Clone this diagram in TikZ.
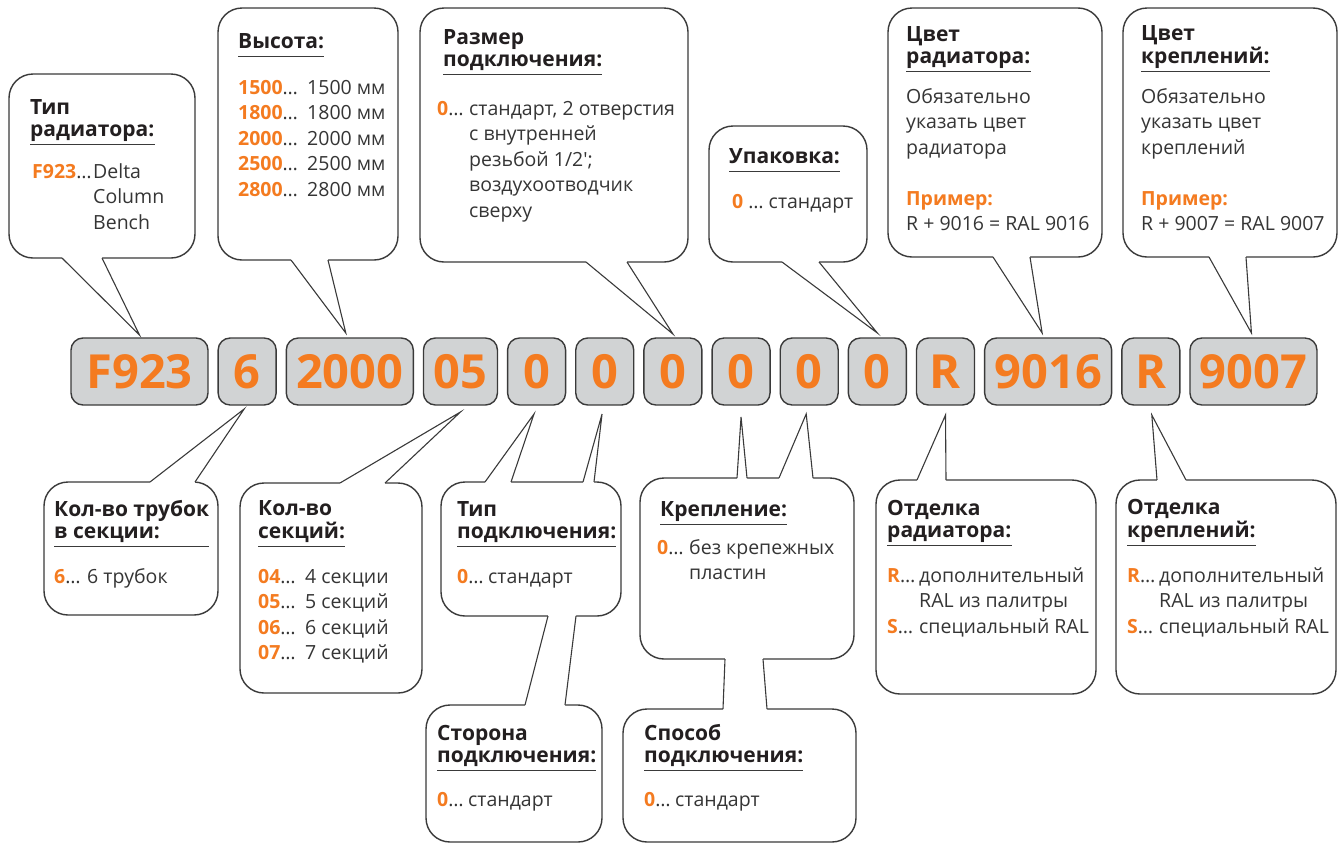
\documentclass[tikz,border=0pt]{standalone}
\usepackage{fontspec}
\setmainfont{Open Sans}
\usepackage{xcolor}
\usetikzlibrary{positioning}
\definecolor{rim}{HTML}{3A3A3A}
\definecolor{kodfill}{HTML}{D1D3D4}
\definecolor{accent}{HTML}{F47B20}
\definecolor{ink}{HTML}{231F20}
\definecolor{bodytext}{HTML}{353535}

\newcommand\bodyfont{\fontsize{19.5}{25.5}\selectfont}
\newcommand\headfont{\fontsize{21}{22}\selectfont\bfseries}
\newcommand\headrows[1]{\begin{tabular}[b]{@{}l@{}}#1\end{tabular}}
\newcommand\bodyrows[1]{\begin{tabular}[t]{@{}l@{}}#1\end{tabular}}
\newcommand\optcode[2][32pt]{\makebox[#1][l]{\textcolor{accent}{\bfseries #2}…}}
% spout: box, anchor, dx1, dx2, tip, inward shift
\newcommand\spout[6]{%
  \fill[white] ([xshift=#3pt,yshift=#6pt]#1.#2) -- ([xshift=#3pt]#1.#2) -- #5
    -- ([xshift=#4pt]#1.#2) -- ([xshift=#4pt,yshift=#6pt]#1.#2) -- cycle;
  \draw[spoutline] ([xshift=#3pt]#1.#2) -- #5 -- ([xshift=#4pt]#1.#2);}

\begin{document}
\begin{tikzpicture}[x=1pt,y=-1pt,
    callout/.style={draw=rim,fill=white,line width=1.4pt,rounded corners=24pt,
      inner sep=0pt,outer sep=0pt,anchor=north west},
    kod/.style={draw=rim,fill=kodfill,line width=1.4pt,rounded corners=12pt,
      minimum height=67pt,inner sep=0pt,outer sep=0pt,text=accent,
      font=\fontsize{47}{47}\selectfont\bfseries},
    spoutline/.style={draw=rim,line width=1.1pt,line join=miter},
    head/.style={inner sep=0pt,anchor=base west,text=ink,font=\headfont},
    body/.style={inner sep=0pt,anchor=base west,text=bodytext,font=\bodyfont},
    uline/.style={draw=rim,line width=0.9pt}]
  \useasboundingbox (0,0) rectangle (1339,844);

  % callouts
  \node[callout,minimum width=186pt,minimum height=184pt] (typ) at (9,74) {};
  \node[callout,minimum width=180pt,minimum height=252pt] (vys) at (218,8) {};
  \node[callout,minimum width=268pt,minimum height=254pt] (razm) at (420,8) {};
  \node[callout,minimum width=158pt,minimum height=136pt] (upak) at (709,126) {};
  \node[callout,minimum width=214pt,minimum height=249pt] (cvrad) at (888,8) {};
  \node[callout,minimum width=214pt,minimum height=249pt] (cvkr) at (1123,8) {};
  \node[callout,minimum width=174pt,minimum height=133pt] (trub) at (44,482) {};
  \node[callout,minimum width=182pt,minimum height=210pt] (sekc) at (240,483) {};
  \node[callout,minimum width=180pt,minimum height=134pt] (tippod) at (441,482) {};
  \node[callout,minimum width=176pt,minimum height=137pt] (storona) at (426,705) {};
  \node[callout,minimum width=214pt,minimum height=181pt] (krep) at (640,478) {};
  \node[callout,minimum width=233pt,minimum height=133pt] (sposob) at (623,709) {};
  \node[callout,minimum width=220pt,minimum height=214pt] (otrad) at (876,480) {};
  \node[callout,minimum width=220pt,minimum height=214pt] (otkr) at (1116,480) {};

  % code boxes
  \node[kod,minimum width=137pt,anchor=north west] (kF) at (71,338) {F923};
  \node[kod,minimum width=58pt,right=10.15pt of kF] (kTrub) {6};
  \node[kod,minimum width=127pt,right=10.15pt of kTrub] (kVys) {2000};
  \node[kod,minimum width=74pt,right=10.15pt of kVys] (kSekc) {05};
  \node[kod,minimum width=58pt,right=10.15pt of kSekc] (kTip) {0};
  \node[kod,minimum width=58pt,right=10.15pt of kTip] (kStor) {0};
  \node[kod,minimum width=58pt,right=10.15pt of kStor] (kRazm) {0};
  \node[kod,minimum width=58pt,right=10.15pt of kRazm] (kSpos) {0};
  \node[kod,minimum width=58pt,right=10.15pt of kSpos] (kKrep) {0};
  \node[kod,minimum width=58pt,right=10.15pt of kKrep] (kUpak) {0};
  \node[kod,minimum width=58pt,right=10.15pt of kUpak] (kOtR) {R};
  \node[kod,minimum width=127pt,right=10.15pt of kOtR] (kRad) {9016};
  \node[kod,minimum width=58pt,right=10.15pt of kRad] (kOtK) {R};
  \node[kod,minimum width=127pt,right=10.15pt of kOtK] (kKr) {9007};

  % spouts from the callouts to the code boxes
  \spout{typ}{south west}{53}{93}{([yshift=3pt]kF.north)}{2}
  \spout{vys}{south west}{73}{110}{([xshift=-4pt,yshift=5pt]kVys.north)}{2}
  \spout{razm}{south west}{166}{207}{([yshift=4pt]kRazm.north)}{2}
  \spout{upak}{south west}{73}{110}{([yshift=5pt]kUpak.north)}{2}
  \spout{cvrad}{south west}{105}{142}{([xshift=-6pt,yshift=5pt]kRad.north)}{2}
  \spout{cvkr}{south west}{86}{123}{([xshift=-2pt,yshift=5pt]kKr.north)}{2}
  \spout{trub}{north west}{106}{151}{([xshift=-3pt,yshift=-4pt]kTrub.south)}{-2}
  \spout{sekc}{north west}{100}{145}{([yshift=-7pt]kSekc.south)}{-2}
  \spout{tippod}{north west}{44}{70}{([xshift=-2.6pt,yshift=-9pt]kTip.south)}{-2}
  \spout{tippod}{north west}{142}{153}{([xshift=-2.7pt,yshift=-9pt]kStor.south)}{-2}
  \spout{krep}{north west}{97}{107}{([yshift=-12pt]kSpos.south)}{-2}
  \spout{krep}{north west}{139}{173}{([xshift=-3pt,yshift=-9pt]kKrep.south)}{-2}
  \spout{otrad}{north west}{41}{70}{([yshift=-10pt]kOtR.south)}{-2}
  \spout{otkr}{north west}{41}{70}{([xshift=1pt,yshift=-10pt]kOtK.south)}{-2}

  % bridges between stacked callouts
  \fill[white] ([xshift=107pt,yshift=2pt]tippod.south west) -- ([xshift=107pt]tippod.south west)
    -- ([xshift=99pt]storona.north west) -- ([xshift=99pt,yshift=-2pt]storona.north west)
    -- ([xshift=139pt,yshift=-2pt]storona.north west) -- ([xshift=139pt]storona.north west)
    -- ([xshift=135pt]tippod.south west) -- ([xshift=135pt,yshift=2pt]tippod.south west) -- cycle;
  \draw[spoutline] ([xshift=107pt]tippod.south west) -- ([xshift=99pt]storona.north west);
  \draw[spoutline] ([xshift=135pt]tippod.south west) -- ([xshift=139pt]storona.north west);
  \fill[white] ([xshift=85pt,yshift=2pt]krep.south west) -- ([xshift=85pt]krep.south west)
    -- ([xshift=100pt]sposob.north west) -- ([xshift=100pt,yshift=-2pt]sposob.north west)
    -- ([xshift=144pt,yshift=-2pt]sposob.north west) -- ([xshift=144pt]sposob.north west)
    -- ([xshift=123pt]krep.south west) -- ([xshift=123pt,yshift=2pt]krep.south west) -- cycle;
  \draw[spoutline] ([xshift=85pt]krep.south west) -- ([xshift=100pt]sposob.north west);
  \draw[spoutline] ([xshift=123pt]krep.south west) -- ([xshift=144pt]sposob.north west);

  % headings
  \node[head] (hTyp) at (30,136) {\headrows{Тип\\радиатора:}};
  \node[head] (hVys) at (238,48) {\headrows{Высота:}};
  \node[head] (hRazm) at (443,66) {\headrows{Размер\\подключения:}};
  \node[head] (hUpak) at (729,163) {\headrows{Упаковка:}};
  \node[head] (hCvRad) at (906,63) {\headrows{Цвет\\радиатора:}};
  \node[head] (hCvKr) at (1141,63) {\headrows{Цвет\\креплений:}};
  \node[head] (hTrub) at (54,538) {\headrows{Кол-во трубок\\в секции:}};
  \node[head] (hSekc) at (258,538) {\headrows{Кол-во\\секций:}};
  \node[head] (hTip) at (457,538) {\headrows{Тип\\подключения:}};
  \node[head] (hStor) at (437,762) {\headrows{Сторона\\подключения:}};
  \node[head] (hKrep) at (660,516) {\headrows{Крепление:}};
  \node[head] (hSpos) at (644,762) {\headrows{Способ\\подключения:}};
  \node[head] (hOtRad) at (887,537) {\headrows{Отделка\\радиатора:}};
  \node[head] (hOtKr) at (1127,537) {\headrows{Отделка\\креплений:}};
  \foreach \h in {hTyp,hVys,hRazm,hUpak,hCvRad,hCvKr,hTrub,hSekc,hTip,hStor,hKrep,hSpos,hOtRad,hOtKr}
    \draw[uline] ([yshift=-8pt]\h.base west) -- ([yshift=-8pt]\h.base east);

  % option lists
  \node[body] (bTyp) at (32,178) {\bodyrows{\optcode[61pt]{F923}Delta\\
    \hspace{61pt}Column\\ \hspace{61pt}Bench}};
  \node[body] (bVys) at (238,94) {\bodyrows{\optcode[69pt]{1500}1500 мм\\
    \optcode[69pt]{1800}1800 мм\\ \optcode[69pt]{2000}2000 мм\\
    \optcode[69pt]{2500}2500 мм\\ \optcode[69pt]{2800}2800 мм}};
  \node[body] (bRazm) at (437,115) {\bodyrows{\optcode{0}стандарт, 2 отверстия\\
    \hspace{32pt}с внутренней\\ \hspace{32pt}резьбой 1/2\textquotesingle;\\
    \hspace{32pt}воздухоотводчик\\ \hspace{32pt}сверху}};
  \node[body] (bUpak) at (732,208) {\textcolor{accent}{\bfseries 0} … стандарт};
  \node[body] (bCvRad) at (906,103) {\bodyrows{Обязательно\\указать цвет\\радиатора\\ \\
    \textcolor{accent}{\bfseries Пример:}\\R + 9016 = RAL 9016}};
  \node[body] (bCvKr) at (1141,103) {\bodyrows{Обязательно\\указать цвет\\креплений\\ \\
    \textcolor{accent}{\bfseries Пример:}\\R + 9007 = RAL 9007}};
  \node[body] (bTrub) at (54,583) {\optcode[33pt]{6}6 трубок};
  \node[body] (bSekc) at (258,583) {\bodyrows{\optcode[47pt]{04}4 секции\\
    \optcode[47pt]{05}5 секций\\ \optcode[47pt]{06}6 секций\\ \optcode[47pt]{07}7 секций}};
  \node[body] (bTip) at (457,583) {\optcode[31pt]{0}стандарт};
  \node[body] (bStor) at (437,806) {\optcode[31pt]{0}стандарт};
  \node[body] (bKrep) at (657,554) {\bodyrows{\optcode{0}без крепежных\\ \hspace{32pt}пластин}};
  \node[body] (bSpos) at (644,806) {\optcode[31pt]{0}стандарт};
  \node[body] (bOtRad) at (887,582) {\bodyrows{\optcode{R}дополнительный\\
    \hspace{32pt}RAL из палитры\\ \optcode{S}специальный RAL}};
  \node[body] (bOtKr) at (1127,582) {\bodyrows{\optcode{R}дополнительный\\
    \hspace{32pt}RAL из палитры\\ \optcode{S}специальный RAL}};
\end{tikzpicture}
\end{document}
